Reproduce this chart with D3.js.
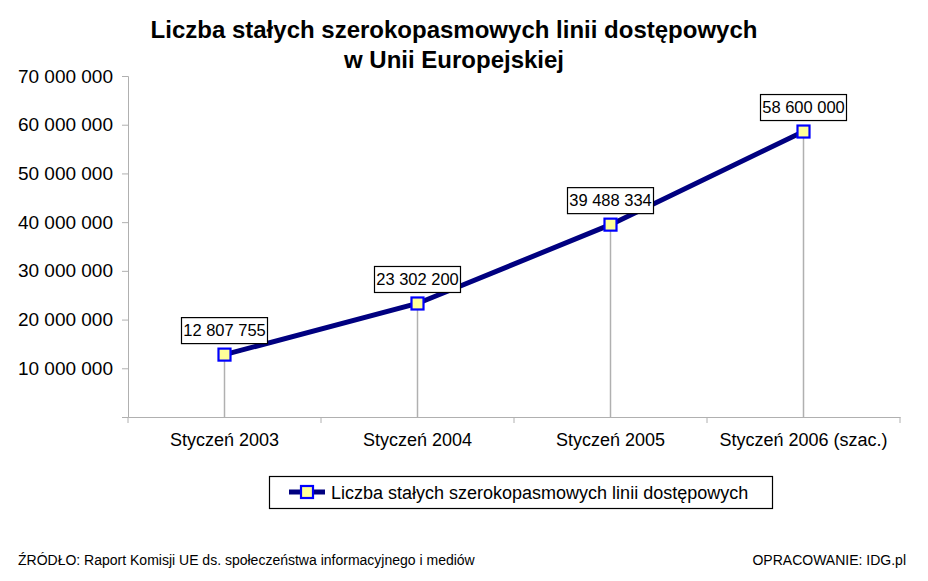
<!DOCTYPE html>
<html><head><meta charset="utf-8">
<script src="https://cdn.jsdelivr.net/npm/d3@7"></script>
<style>body{margin:0;background:#fff;}svg{display:block;font-family:"Liberation Sans",Arial,sans-serif;}</style>
</head><body>
<svg id="c" width="928" height="581"></svg>
<script>
const categories = ["Styczeń 2003","Styczeń 2004","Styczeń 2005","Styczeń 2006 (szac.)"];
const values = [12807755, 23302200, 39488334, 58600000];
const valueLabels = ["12 807 755","23 302 200","39 488 334","58 600 000"];
const yTicks = [0,10000000,20000000,30000000,40000000,50000000,60000000,70000000];
const yTickLabels = ["","10 000 000","20 000 000","30 000 000","40 000 000","50 000 000","60 000 000","70 000 000"];
const titleLines = ["Liczba stałych szerokopasmowych linii dostępowych","w Unii Europejskiej"];
const seriesName = "Liczba stałych szerokopasmowych linii dostępowych";
const source = "ŹRÓDŁO: Raport Komisji UE ds. społeczeństwa informacyjnego i mediów";
const credit = "OPRACOWANIE: IDG.pl";

const svg = d3.select("#c");
const L=128, R=900, T=76, B=417;
const x = d3.scaleBand().domain(categories).range([L,R]);
const y = d3.scaleLinear().domain([0,70000000]).range([B,T]);
const axisCol = "#b0b0b0";

// title
svg.append("g").selectAll("text").data(titleLines).join("text")
  .attr("x",454).attr("y",(d,i)=>38+i*30).attr("text-anchor","middle")
  .attr("font-size",24).attr("font-weight","bold").text(d=>d);

// y axis
const ya = svg.append("g").attr("transform",`translate(${L},0)`)
  .call(d3.axisLeft(y).tickValues(yTicks).tickFormat((d,i)=>yTickLabels[i]).tickSizeOuter(0).tickSize(6).tickPadding(9));
ya.select(".domain").attr("stroke",axisCol);
ya.selectAll(".tick line").attr("stroke",axisCol);
ya.selectAll("text").attr("font-size",19).attr("fill","#000").attr("font-family","Liberation Sans, Arial, sans-serif");

// x axis
const xa = svg.append("g").attr("transform",`translate(0,${B})`)
  .call(d3.axisBottom(x).tickSize(0).tickPadding(16).tickSizeOuter(0));
xa.select(".domain").attr("stroke",axisCol);
xa.selectAll("text").attr("font-size",18).attr("fill","#000").attr("font-family","Liberation Sans, Arial, sans-serif");
// category boundary ticks
const bounds = categories.map(c=>x(c)).concat([R]);
svg.append("g").selectAll("line").data(bounds).join("line")
  .attr("x1",d=>d).attr("x2",d=>d).attr("y1",B).attr("y2",B+6).attr("stroke",axisCol);

const cx = d=>x(d)+x.bandwidth()/2;
// drop lines
svg.append("g").selectAll("line").data(values).join("line")
  .attr("x1",(d,i)=>cx(categories[i])).attr("x2",(d,i)=>cx(categories[i]))
  .attr("y1",d=>y(d)).attr("y2",B).attr("stroke",axisCol).attr("stroke-width",1.5);

// line
const line = d3.line().x((d,i)=>cx(categories[i])).y(d=>y(d));
svg.append("path").datum(values).attr("d",line).attr("fill","none")
  .attr("stroke","#000080").attr("stroke-width",5);

// markers
svg.append("g").selectAll("rect").data(values).join("rect")
  .attr("x",(d,i)=>cx(categories[i])-6).attr("y",d=>y(d)-6).attr("width",12).attr("height",12)
  .attr("fill","#ffff99").attr("stroke","#0000ff").attr("stroke-width",2.2);

// data labels
const lg = svg.append("g");
values.forEach((v,i)=>{
  const px = cx(categories[i]), py = y(v);
  const w = 86, h = 26;
  lg.append("rect").attr("x",px-w/2).attr("y",py-h-11).attr("width",w).attr("height",h)
    .attr("fill","#fff").attr("stroke","#000").attr("stroke-width",1.2);
  lg.append("text").attr("x",px).attr("y",py-18.5).attr("text-anchor","middle")
    .attr("font-size",16.5).text(valueLabels[i]);
});

// legend
const leg = svg.append("g");
leg.append("rect").attr("x",269.5).attr("y",476.5).attr("width",503).attr("height",32)
  .attr("fill","#fff").attr("stroke","#000").attr("stroke-width",1.2);
leg.append("line").attr("x1",289).attr("x2",325).attr("y1",492).attr("y2",492).attr("stroke","#000080").attr("stroke-width",5);
leg.append("rect").attr("x",301).attr("y",486).attr("width",12).attr("height",12)
  .attr("fill","#ffff99").attr("stroke","#0000ff").attr("stroke-width",2.2);
leg.append("text").attr("x",331).attr("y",499).attr("font-size",18).text(seriesName);

// footer
svg.append("text").attr("x",18).attr("y",565).attr("font-size",14).text(source);
svg.append("text").attr("x",906).attr("y",565).attr("font-size",14).attr("text-anchor","end").text(credit);
</script>
</body></html>
